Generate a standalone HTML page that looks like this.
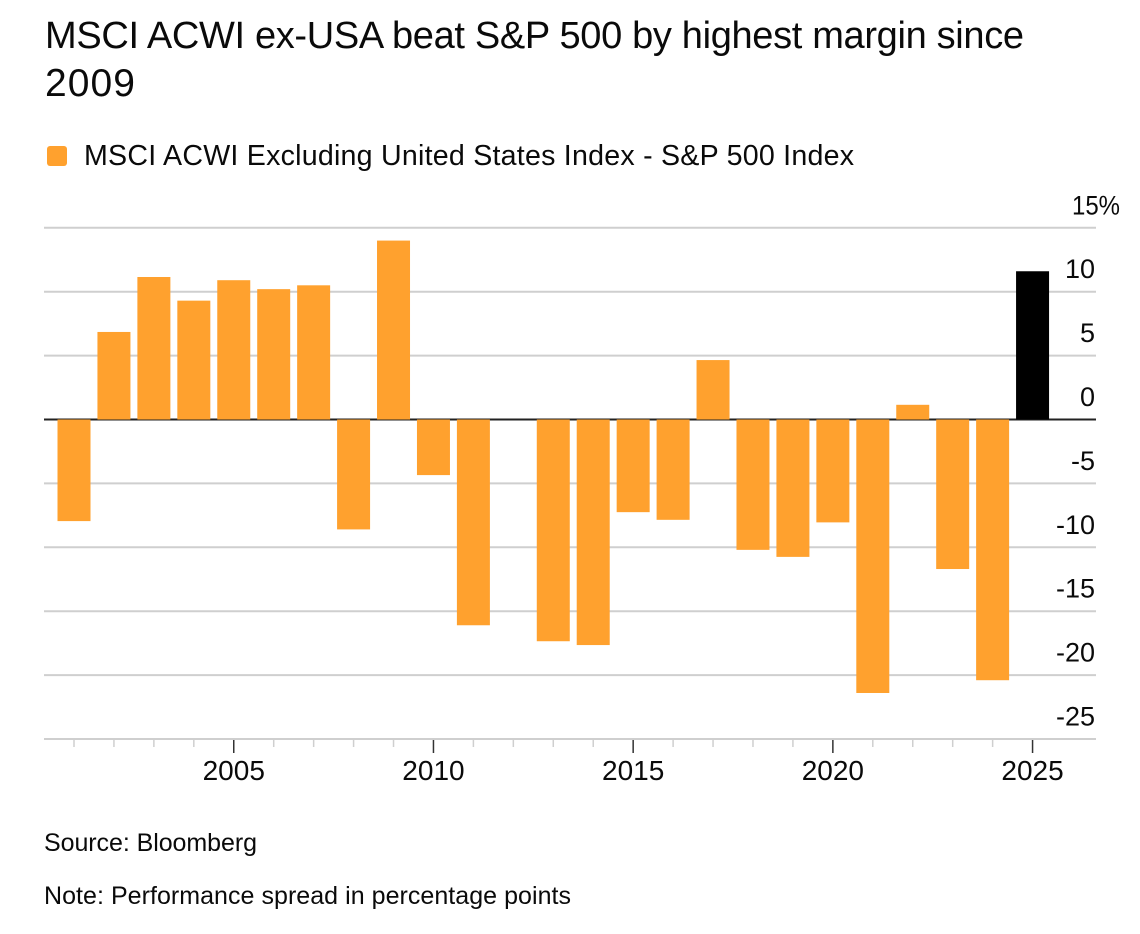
<!DOCTYPE html>
<html lang="en">
<head>
<meta charset="utf-8">
<title>MSCI ACWI ex-USA beat S&amp;P 500 by highest margin since 2009</title>
<style>
html,body{margin:0;padding:0;background:#fff;}
body{width:1140px;height:934px;overflow:hidden;}
svg{display:block;font-family:"Liberation Sans",Arial,sans-serif;fill:#0a0a0a;}
</style>
</head>
<body>
<svg id="chart" width="1140" height="934" viewBox="0 0 1140 934" xmlns="http://www.w3.org/2000/svg">
<rect x="0" y="0" width="1140" height="934" fill="#ffffff"/>
<text x="45" y="48" font-size="38" textLength="979" lengthAdjust="spacing">MSCI ACWI ex-USA beat S&amp;P 500 by highest margin since</text>
<text x="45" y="96" font-size="39" textLength="90" lengthAdjust="spacing">2009</text>
<rect x="47" y="146" width="20" height="20" rx="3" fill="#ffa12e"/>
<text x="84" y="165" font-size="28.6" textLength="770" lengthAdjust="spacing">MSCI ACWI Excluding United States Index - S&amp;P 500 Index</text>
<g id="grid"></g>
<g id="xaxis"></g>
<g id="zero"></g>
<g id="bars"></g>
<g id="yaxis"></g>
<text x="44" y="851" font-size="25" textLength="213" lengthAdjust="spacing">Source: Bloomberg</text>
<text x="44" y="904" font-size="25" textLength="527" lengthAdjust="spacing">Note: Performance spread in percentage points</text>
</svg>
<script>
const years = [2001,2002,2003,2004,2005,2006,2007,2008,2009,2010,2011,2012,2013,2014,2015,2016,2017,2018,2019,2020,2021,2022,2023,2024,2025];
const spread = [-7.95,6.85,11.15,9.3,10.9,10.2,10.5,-8.6,14,-4.35,-16.1,0,-17.35,-17.65,-7.25,-7.85,4.65,-10.2,-10.75,-8.05,-21.4,1.15,-11.7,-20.4,11.6];
const yTicks = [15,10,5,0,-5,-10,-15,-20,-25];
const xLabels = [2005,2010,2015,2020,2025];
const highlightYear = 2025;

const NS = 'http://www.w3.org/2000/svg';
function yScale(v){ return 419.5 - v * 12.78; }
function xScale(yr){ return 74 + (yr - 2001) * 39.94; }
function make(tag, attrs, parent){
  const el = document.createElementNS(NS, tag);
  for (const k in attrs) el.setAttribute(k, attrs[k]);
  parent.appendChild(el);
  return el;
}
const grid = document.getElementById('grid');
const xaxis = document.getElementById('xaxis');
const barsG = document.getElementById('bars');
const zeroG = document.getElementById('zero');
const yaxis = document.getElementById('yaxis');

yTicks.forEach(function(t){
  const y = yScale(t);
  if (t !== 0) {
    const line = make('line', {x1:44, x2:1096, y1:y, y2:y, stroke:'#cfcfcf', 'stroke-width':2}, grid);
    
    
  }
  const label = make('text', {x:1095, y:y - 13.5, 'font-size':27, 'text-anchor':'end'}, yaxis);
  
  
  label.textContent = t === 15 ? '15%' : String(t);
  if (t === 15) {
    label.setAttribute('x', 1120);
    label.setAttribute('textLength', 48);
    label.setAttribute('lengthAdjust', 'spacingAndGlyphs');
  }
});

years.forEach(function(yr, i){
  const x = xScale(yr);
  const major = xLabels.indexOf(yr) !== -1;
  const tick = make('line', {x1:x, x2:x, y1:740, y2: major ? 753 : 747, stroke: major ? '#333333' : '#cfcfcf', 'stroke-width':1.5}, xaxis);
  
  
  if (major) {
    const lab = make('text', {x:x, y:780, 'font-size':28, 'text-anchor':'middle'}, xaxis);
    
    
    lab.textContent = String(yr);
  }
  const v = spread[i];
  if (v !== 0) {
    const top = Math.min(yScale(v), yScale(0));
    const h = Math.abs(yScale(v) - yScale(0));
    const bar = make('rect', {x:x - 16.5, y:top, width:33, height:h, fill: yr === highlightYear ? '#000000' : '#ffa12e'}, barsG);
    
    
  }
});

const zeroLine = make('line', {x1:44, x2:1096, y1:yScale(0), y2:yScale(0), stroke:'#222222', 'stroke-width':2}, zeroG);


</script>
</body>
</html>
